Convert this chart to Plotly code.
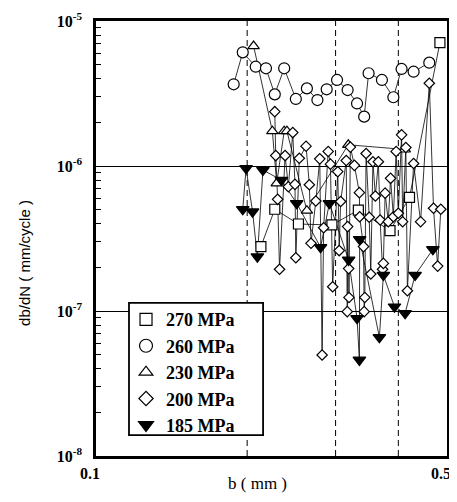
import math
import plotly.graph_objects as go

# ---------------- data (b in mm, db/dN in mm/cycle) ----------------
b_270 = [0.213, 0.227, 0.253, 0.295, 0.333, 0.385, 0.421, 0.484]
r_270 = [2.78e-7, 5.03e-7, 3.98e-7, 3.92e-7, 4.97e-7, 3.58e-7, 6.08e-7, 7.09e-6]

b_260 = [0.188, 0.196, 0.208, 0.218, 0.227, 0.237, 0.250, 0.263, 0.276, 0.288,
         0.302, 0.317, 0.331, 0.342, 0.349, 0.371, 0.391, 0.406, 0.429, 0.461]
r_260 = [3.66e-6, 6.08e-6, 4.84e-6, 4.72e-6, 3.12e-6, 4.72e-6, 2.90e-6, 3.43e-6, 2.85e-6, 3.38e-6,
         3.92e-6, 3.34e-6, 2.70e-6, 2.19e-6, 4.36e-6, 3.92e-6, 2.98e-6, 4.67e-6, 4.47e-6, 5.16e-6]

b_230 = [0.206, 0.2245, 0.229, 0.237, 0.240, 0.263, 0.318, 0.412]
r_230 = [6.72e-6, 1.74e-6, 7.60e-7, 1.74e-6, 1.74e-6, 4.92e-7, 1.40e-6, 1.30e-6]

b_200 = [0.227, 0.228, 0.230, 0.232, 0.238, 0.2416, 0.2465, 0.249, 0.250, 0.254,
         0.262, 0.266, 0.268, 0.274, 0.279, 0.282, 0.284, 0.290, 0.293, 0.296,
         0.303, 0.305, 0.307, 0.315, 0.3165, 0.317, 0.3185, 0.319, 0.321, 0.327,
         0.3346, 0.335, 0.341, 0.342, 0.343, 0.345, 0.350, 0.3525, 0.356, 0.360,
         0.365, 0.368, 0.372, 0.3735, 0.3765, 0.382, 0.386, 0.391, 0.396, 0.400,
         0.406, 0.408, 0.414, 0.417, 0.429, 0.443, 0.461, 0.470, 0.479, 0.486]
r_200 = [2.37e-6, 1.18e-6, 5.89e-7, 1.94e-7, 1.18e-6, 7.20e-7, 1.70e-6, 7.47e-7, 2.33e-7, 1.13e-6,
         1.37e-6, 7.42e-7, 2.93e-7, 5.74e-7, 1.12e-6, 4.97e-8, 3.75e-7, 1.26e-6, 1.03e-6, 1.47e-7,
         9.14e-7, 2.61e-7, 5.69e-7, 1.09e-6, 9.90e-8, 3.82e-7, 1.96e-7, 1.24e-7, 1.35e-6, 1.01e-6,
         6.55e-7, 4.47e-7, 2.78e-7, 9.90e-8, 1.24e-7, 1.22e-6, 4.43e-7, 1.80e-7, 1.07e-6, 6.21e-7,
         1.07e-6, 4.24e-7, 1.94e-7, 2.13e-7, 6.50e-7, 4.13e-7, 8.22e-7, 4.47e-7, 1.26e-6, 4.72e-7,
         1.64e-6, 4.13e-7, 1.34e-6, 1.38e-7, 1.04e-6, 4.13e-7, 3.72e-6, 5.11e-7, 2.04e-7, 5.03e-7]

b_185 = [0.196, 0.199, 0.205, 0.2096, 0.215, 0.234, 0.251, 0.280, 0.2916, 0.3185,
         0.331, 0.3346, 0.335, 0.3667, 0.3735, 0.393, 0.4126, 0.432, 0.4686]
r_185 = [5.03e-7, 9.64e-7, 4.84e-7, 2.37e-7, 9.38e-7, 8.00e-7, 5.53e-7, 2.75e-7, 5.53e-7, 2.25e-7,
         8.90e-8, 4.60e-8, 3.12e-7, 6.58e-8, 1.77e-7, 1.07e-7, 9.64e-8, 1.77e-7, 2.66e-7]

series_names = ["270 MPa", "260 MPa", "230 MPa", "200 MPa", "185 MPa"]
x_range = [0.1, 0.5]
x_tick_vals = [0.1, 0.5]
x_tick_text = ["0.1", "0.5"]
y_range = [1e-8, 1e-5]
y_tick_vals = [1e-8, 1e-7, 1e-6, 1e-5]
y_tick_text = ["10<sup>-8</sup>", "10<sup>-7</sup>", "10<sup>-6</sup>", "10<sup>-5</sup>"]
dashed_b = [0.2, 0.3, 0.4]

# ---------------- styling ----------------
series = [
    (b_270, r_270, "square", "white", 10, 12),
    (b_260, r_260, "circle", "white", 11, 13),
    (b_230, r_230, "triangle-up", "white", 10, 12),
    (b_200, r_200, "diamond", "white", 8, 11),
    (b_185, r_185, "triangle-down", "black", 11, 13),
]

fig = go.Figure()

# connecting lines first (below all markers)
for (bx, ry, sym, fill, sz, lsz), name in zip(series, series_names):
    fig.add_trace(go.Scatter(x=bx, y=ry, mode="lines", showlegend=False,
                             line=dict(color="black", width=0.8), hoverinfo="skip"))

# markers
for (bx, ry, sym, fill, sz, lsz), name in zip(series, series_names):
    fig.add_trace(go.Scatter(x=bx, y=ry, mode="markers", showlegend=False, name=name,
                             marker=dict(symbol=sym, size=sz, color=fill,
                                         line=dict(color="black", width=1.2))))

# legend entries
for (bx, ry, sym, fill, sz, lsz), name in zip(series, series_names):
    fig.add_trace(go.Scatter(x=[None], y=[None], mode="markers", name=name,
                             marker=dict(symbol=sym, size=lsz, color=fill,
                                         line=dict(color="black", width=1.2))))

for xv in dashed_b:
    fig.add_shape(type="line", xref="x", yref="paper", x0=xv, x1=xv, y0=0, y1=1,
                  line=dict(color="black", width=1, dash="6px,4px"), layer="below")

# legend frame (white box above the data, legend text drawn on top)
fig.add_shape(type="rect", xref="paper", yref="paper",
              x0=0.094, x1=0.476, y0=0.048, y1=0.352,
              line=dict(color="black", width=1.8), fillcolor="white", layer="above")

minor_y = [m * 10.0 ** e for e in range(-8, -5) for m in range(2, 10)]

# the page body has an 8px default margin, so the figure is 8px smaller
fig.update_layout(
    template="none",
    width=449, height=494,
    margin=dict(l=88, r=10, t=13, b=46, autoexpand=False),
    paper_bgcolor="white", plot_bgcolor="white",
    font=dict(family="Liberation Serif", color="black"),
    xaxis=dict(type="log", range=[math.log10(v) for v in x_range],
               tickvals=x_tick_vals, ticktext=x_tick_text, automargin=False,
               showgrid=False, zeroline=False, ticks="", showline=True, linecolor="black",
               linewidth=2.5, mirror=True, ticklabelstandoff=1, ticklabelshift=-6,
               tickfont=dict(family="Liberation Serif", size=16, weight="bold")),
    yaxis=dict(type="log", range=[math.log10(v) for v in y_range],
               tickvals=y_tick_vals, ticktext=y_tick_text, automargin=False,
               showgrid=True, gridcolor="black", gridwidth=1.2, zeroline=False,
               ticks="inside", ticklen=7, tickwidth=1, tickcolor="black",
               showline=True, linecolor="black", linewidth=2.5, mirror=True,
               ticklabelstandoff=8,
               minor=dict(tickvals=minor_y, ticks="inside", ticklen=5, tickwidth=1,
                          tickcolor="black", showgrid=False),
               tickfont=dict(family="Liberation Serif", size=16, weight="bold")),
    legend=dict(x=0.0855, y=0.356, xanchor="left", yanchor="top",
                bgcolor="rgba(0,0,0,0)", borderwidth=0,
                font=dict(family="Liberation Serif", size=18, weight="bold"),
                tracegroupgap=0, itemwidth=30),
    annotations=[
        dict(text="b ( mm )", xref="paper", yref="paper", x=0.46, y=-0.064,
             xanchor="center", yanchor="middle", showarrow=False,
             font=dict(family="Liberation Serif", size=17)),
        dict(text="db/dN ( mm/cycle )", xref="paper", yref="paper", x=-0.202, y=0.444,
             xanchor="center", yanchor="middle", textangle=-90, showarrow=False,
             font=dict(family="Liberation Sans", size=15)),
    ],
)

fig.write_html("out.html")
